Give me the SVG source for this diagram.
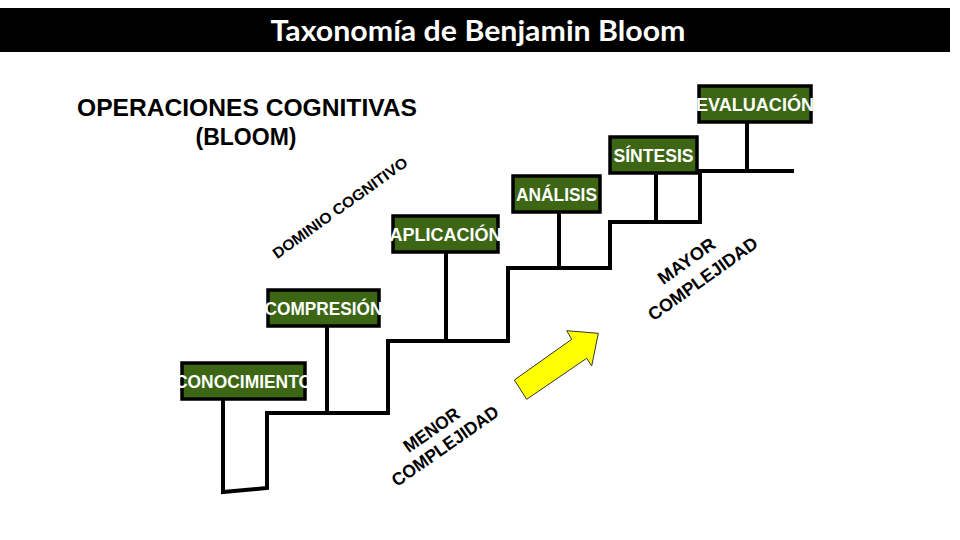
<svg xmlns="http://www.w3.org/2000/svg" width="960" height="540" viewBox="0 0 960 540">
<style>
.box{fill:#3c6614;stroke:#000;stroke-width:3.5}
.lbl{fill:#fff;font-family:"Liberation Sans",Arial,sans-serif;font-weight:bold;font-size:18px;text-anchor:middle}
.stair{fill:none;stroke:#000;stroke-width:4;stroke-linejoin:miter;stroke-linecap:square}
.diag{fill:#000;font-family:"Liberation Sans",Arial,sans-serif;font-weight:bold;text-anchor:middle}
</style>
<rect width="960" height="540" fill="#fff"/>
<g id="title">
<rect x="0" y="8" width="950" height="44" fill="#000"/>
<text x="478" y="41" fill="#fff" font-family="Lato, 'Open Sans', sans-serif" font-weight="bold" font-size="29" text-anchor="middle" textLength="415" lengthAdjust="spacingAndGlyphs">Taxonomía de Benjamin Bloom</text>
</g>
<g id="heading" font-family="'Liberation Sans', Arial, sans-serif" font-weight="bold" font-size="23" fill="#000" text-anchor="middle">
<text x="247" y="116" textLength="340" lengthAdjust="spacingAndGlyphs">OPERACIONES  COGNITIVAS</text>
<text x="246" y="145">(BLOOM)</text>
</g>
<g id="connectors">
<path class="stair" d="M223,399 V492 L267,488 V413 H388 V341 H508 V268 H610 V222 H700 V171 H792"/>
<path class="stair" d="M327,326 V413 M446,252 V341 M559,212 V268 M656,173 V222 M747,122 V171"/>
</g>
<g id="conocimiento">
<rect class="box" x="182" y="363" width="123" height="36"/>
<text class="lbl" x="243.5" y="387.5" textLength="137" lengthAdjust="spacingAndGlyphs">CONOCIMIENTO</text>
</g>
<g id="compresion">
<rect class="box" x="268" y="290" width="111" height="36"/>
<text class="lbl" x="323.5" y="314.5" textLength="118" lengthAdjust="spacingAndGlyphs">COMPRESIÓN</text>
</g>
<g id="aplicacion">
<rect class="box" x="393" y="216" width="105" height="36"/>
<text class="lbl" x="445.5" y="240.5" textLength="112" lengthAdjust="spacingAndGlyphs">APLICACIÓN</text>
</g>
<g id="analisis">
<rect class="box" x="513" y="176" width="87" height="36"/>
<text class="lbl" x="556.5" y="200.5" textLength="81" lengthAdjust="spacingAndGlyphs">ANÁLISIS</text>
</g>
<g id="sintesis">
<rect class="box" x="610" y="137" width="87" height="36"/>
<text class="lbl" x="653.5" y="161.5" textLength="80" lengthAdjust="spacingAndGlyphs">SÍNTESIS</text>
</g>
<g id="evaluacion">
<rect class="box" x="699" y="86" width="112" height="36"/>
<text class="lbl" x="755" y="110.5" textLength="118" lengthAdjust="spacingAndGlyphs">EVALUACIÓN</text>
</g>
<g id="dominio">
<text class="diag" font-size="15" transform="translate(343,212) rotate(-35.6)" textLength="162" lengthAdjust="spacingAndGlyphs">DOMINIO  COGNITIVO</text>
</g>
<g id="menor">
<g transform="translate(435,435) rotate(-35)">
<text class="diag" font-size="18" x="0" y="0" textLength="64" lengthAdjust="spacingAndGlyphs">MENOR</text>
<text class="diag" font-size="18" x="2" y="21" textLength="126" lengthAdjust="spacingAndGlyphs">COMPLEJIDAD</text>
</g>
</g>
<g id="mayor">
<g transform="translate(690,266) rotate(-35.5)">
<text class="diag" font-size="18" x="0" y="0" textLength="66" lengthAdjust="spacingAndGlyphs">MAYOR</text>
<text class="diag" font-size="18" x="3" y="24" textLength="130" lengthAdjust="spacingAndGlyphs">COMPLEJIDAD</text>
</g>
</g>
<g id="arrow">
<polygon points="514.3,380 571.7,339.3 566.7,330.7 598.3,333.3 591.7,366 586.7,358.3 526.7,399.3" fill="#ffff00" stroke="#333" stroke-width="1"/>
</g>
</svg>
